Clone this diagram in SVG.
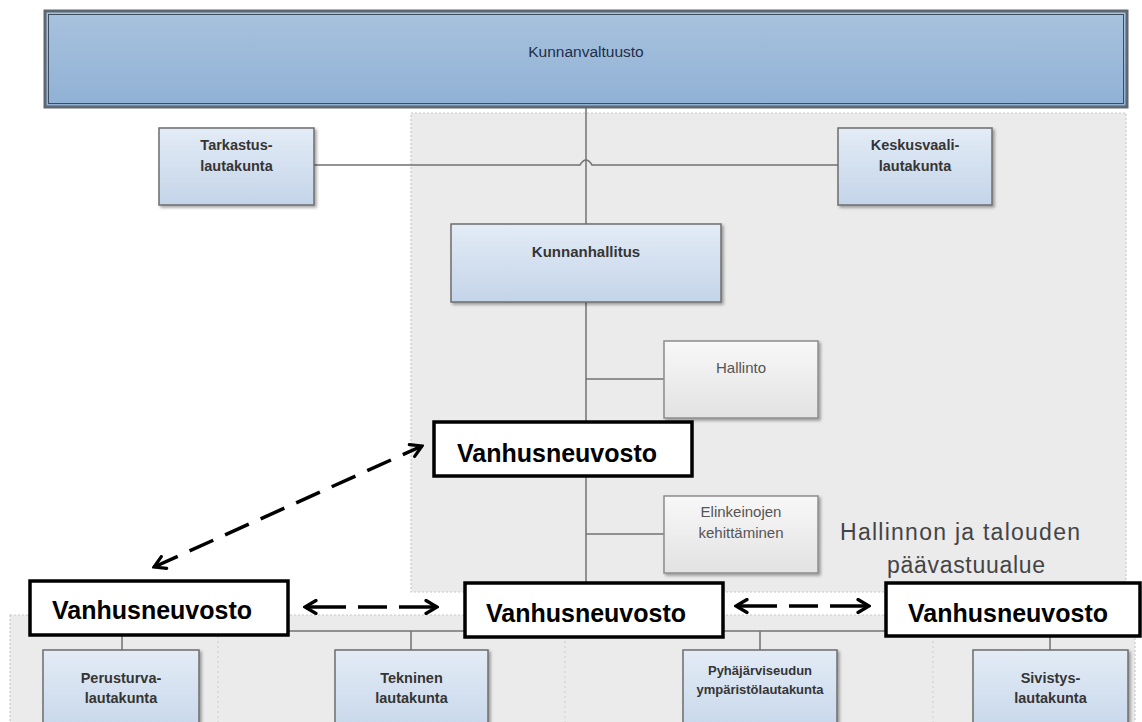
<svg xmlns="http://www.w3.org/2000/svg" width="1142" height="722" viewBox="0 0 1142 722">
<defs>
<linearGradient id="gBlue" x1="0" y1="0" x2="0" y2="1"><stop offset="0" stop-color="#e3ecf6"/><stop offset="1" stop-color="#c4d4e9"/></linearGradient>
<linearGradient id="gGray" x1="0" y1="0" x2="0" y2="1"><stop offset="0" stop-color="#f8f8f8"/><stop offset="1" stop-color="#e2e2e2"/></linearGradient>
<linearGradient id="gTop" x1="0" y1="0" x2="0" y2="1"><stop offset="0" stop-color="#a8c2de"/><stop offset="1" stop-color="#90b1d5"/></linearGradient>
<filter id="sh" x="-10%" y="-10%" width="130%" height="130%"><feDropShadow dx="2" dy="2" stdDeviation="1.5" flood-color="#000" flood-opacity="0.35"/></filter>
<marker id="ah" viewBox="0 0 16 16" refX="14" refY="8" markerWidth="16" markerHeight="16" markerUnits="userSpaceOnUse" orient="auto-start-reverse"><path d="M3,1.5 L14,8 L3,14.5" fill="none" stroke="#000" stroke-width="3.2" stroke-linecap="round"/></marker>
<style>
.region{fill:#ebebeb;stroke:#c9c9c9;stroke-width:1.2;stroke-dasharray:2 2}
.sep{stroke:#d6d6d6;stroke-width:1.5;stroke-dasharray:2 3;fill:none}
.blue{fill:url(#gBlue);stroke:#6e6e6e;stroke-width:1.5;filter:url(#sh)}
.gray{fill:url(#gGray);stroke:#8c8c8c;stroke-width:1.5;filter:url(#sh)}
.vn{fill:#fff;stroke:#000;stroke-width:3.5}
.t{font-family:"Liberation Sans",Arial,sans-serif;text-anchor:middle}
.tb{font-weight:bold;fill:#353535}
.tg{fill:#555}
.tv{font-family:"Liberation Sans",Arial,sans-serif;font-weight:bold;font-size:25px;fill:#000}
.ln{stroke:#727272;stroke-width:1.5;fill:none}
.da{stroke:#000;stroke-width:3.5;fill:none;marker-start:url(#ah);marker-end:url(#ah)}
</style>
</defs>
<g id="backgrounds">
<rect class="region" x="411" y="113" width="715" height="479"/>
<rect class="region" x="10" y="615" width="1125" height="112"/>
<line class="sep" x1="218" y1="616" x2="218" y2="722"/>
<line class="sep" x1="565" y1="616" x2="565" y2="722"/>
<line class="sep" x1="933" y1="616" x2="933" y2="722"/>
</g>
<g id="connectors">
<path class="ln" d="M586 108 V631"/>
<path class="ln" d="M314 165 H580 Q586 155 592 165 H838"/>
<path class="ln" d="M586 379 H664"/>
<path class="ln" d="M586 534 H664"/>
<path class="ln" d="M122 631 H1050"/>
<path class="ln" d="M122 631 V650 M411 631 V650 M760 631 V650 M1050 631 V650"/>
</g>
<g id="kunnanvaltuusto">
<rect x="45" y="11" width="1082" height="96" fill="url(#gTop)" stroke="#5f6872" stroke-width="3"/>
<rect x="48.5" y="14.5" width="1075" height="89" fill="none" stroke="#3c4d60" stroke-width="1"/>
<text class="t" x="586" y="57" font-size="15.5" fill="#1e2f4a">Kunnanvaltuusto</text>
</g>
<g id="tarkastus">
<rect class="blue" x="159" y="128" width="155" height="77"/>
<text class="t tb" font-size="14.5" x="236.5" y="150">Tarkastus-</text>
<text class="t tb" font-size="14.5" x="236.5" y="171">lautakunta</text>
</g>
<g id="keskusvaali">
<rect class="blue" x="838" y="128" width="154" height="77"/>
<text class="t tb" font-size="14.5" x="915" y="150">Keskusvaali-</text>
<text class="t tb" font-size="14.5" x="915" y="171">lautakunta</text>
</g>
<g id="kunnanhallitus">
<rect class="blue" x="451" y="224" width="270" height="78"/>
<text class="t tb" font-size="15" x="586" y="257">Kunnanhallitus</text>
</g>
<g id="hallinto">
<rect class="gray" x="664" y="341" width="154" height="77"/>
<text class="t tg" font-size="15" x="741" y="373">Hallinto</text>
</g>
<g id="elinkeinojen">
<rect class="gray" x="664" y="496" width="154" height="77"/>
<text class="t tg" font-size="15" x="741" y="517">Elinkeinojen</text>
<text class="t tg" font-size="15" x="741" y="538">kehittäminen</text>
</g>
<g id="paavastuualue">
<text class="t" font-size="23" fill="#444" x="960" y="540" textLength="240">Hallinnon ja talouden</text>
<text class="t" font-size="23" fill="#444" x="966" y="573" textLength="158">päävastuualue</text>
</g>
<g id="perusturva">
<rect class="blue" x="43" y="650" width="156" height="90"/>
<text class="t tb" font-size="14.5" x="121" y="683">Perusturva-</text>
<text class="t tb" font-size="14.5" x="121" y="703">lautakunta</text>
</g>
<g id="tekninen">
<rect class="blue" x="335" y="650" width="153" height="90"/>
<text class="t tb" font-size="14.5" x="411.5" y="683">Tekninen</text>
<text class="t tb" font-size="14.5" x="411.5" y="703">lautakunta</text>
</g>
<g id="pyhajarviseudun">
<rect class="blue" x="683" y="650" width="154" height="90"/>
<text class="t tb" font-size="13" x="760" y="675">Pyhäjärviseudun</text>
<text class="t tb" font-size="13" x="760" y="694">ympäristölautakunta</text>
</g>
<g id="sivistys">
<rect class="blue" x="973" y="650" width="155" height="90"/>
<text class="t tb" font-size="14.5" x="1050.5" y="683">Sivistys-</text>
<text class="t tb" font-size="14.5" x="1050.5" y="703">lautakunta</text>
</g>
<g id="vanhusneuvosto-top">
<rect class="vn" x="434" y="422" width="258" height="54"/>
<text class="tv" x="457" y="462">Vanhusneuvosto</text>
</g>
<g id="vanhusneuvosto-left">
<rect class="vn" x="30" y="581" width="258" height="54"/>
<text class="tv" x="52" y="619">Vanhusneuvosto</text>
</g>
<g id="vanhusneuvosto-center">
<rect class="vn" x="465" y="583" width="258" height="54"/>
<text class="tv" x="486" y="622">Vanhusneuvosto</text>
</g>
<g id="vanhusneuvosto-right">
<rect class="vn" x="886" y="583" width="254" height="53"/>
<text class="tv" x="908" y="622">Vanhusneuvosto</text>
</g>
<g id="arrows">
<path class="da" d="M154 567 L422 446" stroke-dasharray="26 13"/>
<path class="da" d="M305 607 H437" stroke-dasharray="41 12 29 12 38"/>
<path class="da" d="M736 606 H869" stroke-dasharray="41 12 29 12 39"/>
</g>
</svg>
